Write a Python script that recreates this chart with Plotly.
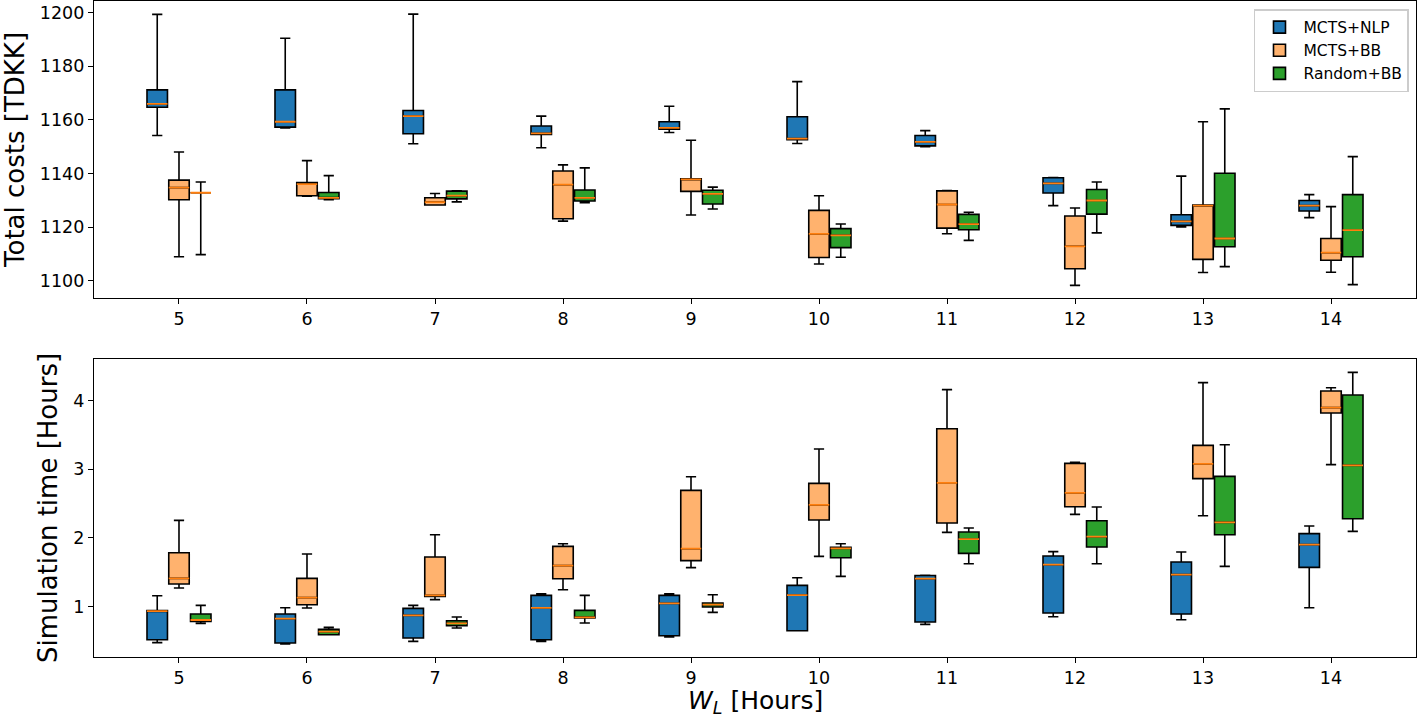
import plotly.graph_objects as go

W = [5, 6, 7, 8, 9, 10, 11, 12, 13, 14]
SERIES = ["MCTS+NLP", "MCTS+BB", "Random+BB"]

# Each entry: (lower whisker, Q1, median, Q3, upper whisker)
cost_nlp = [(1154.2, 1164.7, 1166.0, 1171.2, 1199.4),
            (1157.0, 1157.3, 1159.3, 1171.2, 1190.5),
            (1151.1, 1154.8, 1161.4, 1163.5, 1199.5),
            (1149.6, 1154.6, 1155.0, 1157.7, 1161.4),
            (1155.3, 1156.5, 1157.0, 1159.3, 1165.1),
            (1151.2, 1152.6, 1153.0, 1161.2, 1174.3),
            (1150.0, 1150.3, 1151.8, 1154.2, 1156.0),
            (1128.0, 1132.7, 1136.3, 1138.4, 1138.5),
            (1120.0, 1120.6, 1122.1, 1124.6, 1139.0),
            (1123.5, 1126.0, 1128.0, 1129.9, 1132.1)]
cost_bb = [(1108.9, 1130.2, 1134.7, 1137.5, 1148.0),
           (1131.5, 1131.7, 1136.0, 1136.6, 1144.8),
           (1128.2, 1128.2, 1129.3, 1130.9, 1132.5),
           (1122.2, 1123.1, 1135.8, 1140.9, 1143.2),
           (1124.5, 1133.3, 1137.8, 1138.0, 1152.4),
           (1106.2, 1108.6, 1117.4, 1126.2, 1131.7),
           (1117.5, 1119.6, 1128.4, 1133.5, 1133.6),
           (1098.2, 1104.4, 1112.8, 1124.1, 1127.1),
           (1103.0, 1107.9, 1128.0, 1128.2, 1159.3),
           (1103.1, 1107.6, 1110.4, 1115.7, 1127.6)]
cost_rand = [(1109.7, 1132.8, 1132.8, 1132.8, 1136.8),
             (1130.2, 1130.6, 1130.9, 1132.9, 1139.2),
             (1129.4, 1130.5, 1131.7, 1133.4, 1133.5),
             (1129.1, 1129.7, 1130.9, 1133.8, 1142.1),
             (1126.7, 1128.6, 1132.4, 1133.7, 1134.9),
             (1108.7, 1112.3, 1116.9, 1119.4, 1121.1),
             (1115.0, 1119.0, 1121.1, 1124.7, 1125.5),
             (1117.8, 1124.8, 1129.9, 1134.0, 1136.8),
             (1105.2, 1112.6, 1115.7, 1140.1, 1164.1),
             (1098.5, 1108.9, 1118.8, 1132.1, 1146.3)]

time_nlp = [(0.472, 0.515, 0.930, 0.940, 1.156),
            (0.452, 0.467, 0.821, 0.889, 0.981),
            (0.490, 0.540, 0.869, 0.971, 1.015),
            (0.490, 0.515, 0.977, 1.160, 1.185),
            (0.554, 0.573, 1.044, 1.160, 1.185),
            (0.646, 0.646, 1.165, 1.306, 1.418),
            (0.738, 0.773, 1.403, 1.450, 1.452),
            (0.850, 0.904, 1.607, 1.734, 1.797),
            (0.806, 0.889, 1.462, 1.647, 1.792),
            (0.981, 1.568, 1.899, 2.059, 2.171)]
time_bb = [(1.268, 1.326, 1.408, 1.782, 2.253),
           (0.977, 1.025, 1.127, 1.408, 1.763),
           (1.098, 1.146, 1.160, 1.719, 2.044),
           (1.243, 1.403, 1.593, 1.874, 1.913),
           (1.564, 1.666, 1.840, 2.690, 2.889),
           (1.728, 2.258, 2.477, 2.791, 3.292),
           (2.078, 2.214, 2.800, 3.588, 4.156),
           (2.340, 2.452, 2.652, 3.083, 3.097),
           (2.320, 2.860, 3.074, 3.345, 4.258),
           (3.064, 3.816, 3.894, 4.136, 4.185)]
time_rand = [(0.753, 0.782, 0.802, 0.889, 1.015),
             (0.588, 0.588, 0.632, 0.665, 0.694),
             (0.686, 0.719, 0.753, 0.792, 0.846),
             (0.758, 0.830, 0.840, 0.942, 1.160),
             (0.913, 0.991, 1.025, 1.050, 1.170),
             (1.437, 1.709, 1.845, 1.859, 1.913),
             (1.622, 1.772, 1.981, 2.083, 2.141),
             (1.622, 1.865, 2.015, 2.248, 2.447),
             (1.583, 2.044, 2.224, 2.893, 3.355),
             (2.092, 2.277, 3.053, 4.078, 4.408)]

FILLS = ["#1f77b4", "#ffb26e", "#2ca02c"]
OFFSETS = [-0.17, 0.0, 0.17]
BOX_W = 0.16
FONT = "DejaVu Sans"

fig = go.Figure()


def add_panel(data_list, xa, ya, show_legend):
    for i, (name, data) in enumerate(zip(SERIES, data_list)):
        xs = [w + OFFSETS[i] for w in W]
        lo = [d[0] for d in data]
        q1 = [d[1] for d in data]
        med = [d[2] for d in data]
        q3 = [d[3] for d in data]
        hi = [d[4] for d in data]
        fig.add_trace(go.Box(
            x=xs, lowerfence=lo, q1=q1, median=med, q3=q3, upperfence=hi,
            name=name, width=BOX_W, whiskerwidth=0.5,
            fillcolor=FILLS[i], line=dict(color="black", width=1.6),
            xaxis=xa, yaxis=ya, showlegend=show_legend, legendgroup=name,
            hoverinfo="skip"))
        # orange median line drawn as a degenerate box
        fig.add_trace(go.Box(
            x=xs, lowerfence=med, q1=med, median=med, q3=med, upperfence=med,
            name=name + " median", width=BOX_W, whiskerwidth=0,
            fillcolor="rgba(0,0,0,0)", line=dict(color="#ff7f0e", width=1.8),
            xaxis=xa, yaxis=ya, showlegend=False, legendgroup=name,
            hoverinfo="skip"))


add_panel([cost_nlp, cost_bb, cost_rand], "x", "y", True)
add_panel([time_nlp, time_bb, time_rand], "x2", "y2", False)

axis_common = dict(showline=True, linecolor="black", linewidth=1.2, mirror=True,
                   ticks="outside", ticklen=5, tickwidth=1.2, tickcolor="black",
                   showgrid=False, zeroline=False, automargin=False,
                   tickfont=dict(family=FONT, size=17.5, color="black"))

xr = [4.336, 14.664]
fig.update_layout(
    width=1418, height=717,
    margin=dict(l=94, r=2, t=1, b=60),
    paper_bgcolor="white", plot_bgcolor="white",
    font=dict(family=FONT, color="black"),
    boxmode="overlay",
    xaxis=dict(domain=[0, 1], anchor="y", range=xr, tickvals=W, **axis_common),
    yaxis=dict(domain=[0.5473, 1.0], anchor="x", range=[1093.5, 1204.4],
               tickvals=[1100, 1120, 1140, 1160, 1180, 1200],
               title=dict(text="Total costs [TDKK]", font=dict(family=FONT, size=26), standoff=8),
               **axis_common),
    xaxis2=dict(domain=[0, 1], anchor="y2", range=xr, tickvals=W, **axis_common),
    yaxis2=dict(domain=[0.0, 0.4543], anchor="x2", range=[0.263, 4.603],
                tickvals=[1, 2, 3, 4],
                title=dict(text="Simulation time [Hours]", font=dict(family=FONT, size=26), standoff=8),
                **axis_common),
    legend=dict(x=0.9947, y=0.9878, xanchor="right", yanchor="top",
                bgcolor="rgba(255,255,255,0.9)", bordercolor="#cccccc", borderwidth=1.5,
                itemwidth=38,
                font=dict(family=FONT, size=15.5, color="black"), tracegroupgap=0),
    annotations=[dict(text="<i>W</i><sub><i>L</i></sub> [Hours]", xref="paper", yref="paper",
                      x=0.5, y=-0.0685, xanchor="center", yanchor="middle", showarrow=False,
                      font=dict(family=FONT, size=25, color="black"))],
)

fig.write_html("out.html", config={"displayModeBar": False},
               post_script="document.body.style.margin='0';document.body.style.overflow='hidden';")
